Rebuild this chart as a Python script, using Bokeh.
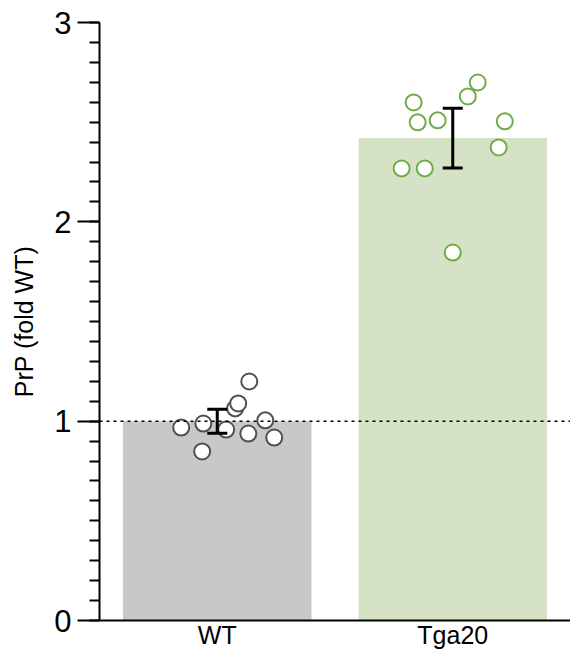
from bokeh.plotting import figure
from bokeh.models import (ColumnDataSource, Span, Whisker, TeeHead, FixedTicker,
                          SingleIntervalTicker, Range1d)
from bokeh.embed import file_html
from bokeh.resources import INLINE

# ---- data ----
groups = ["WT", "Tga20"]
group_pos = [0, 1]
means = [1.0, 2.42]
err_low = [0.94, 2.27]
err_high = [1.06, 2.57]

wt_values = [0.968, 0.848, 0.988, 0.958, 1.064, 1.089, 1.199, 0.938, 1.004, 0.918]
wt_jitter = [-0.153, -0.064, -0.059, 0.038, 0.076, 0.089, 0.136, 0.132, 0.204, 0.242]
tg_values = [2.699, 2.629, 2.599, 2.499, 2.509, 2.504, 2.373, 2.268, 2.268, 1.846]
tg_jitter = [0.106, 0.064, -0.166, -0.149, -0.064, 0.221, 0.195, -0.217, -0.119, 0.0]

bar_colors = ["#c8c8c8", "#d5e2c5"]
FONT = "Liberation Sans"

p = figure(width=570, height=651, output_backend="svg", toolbar_location=None,
           x_range=Range1d(-0.5, 1.5), y_range=Range1d(0, 3),
           min_border_left=99, min_border_right=0, min_border_top=22,
           min_border_bottom=31)
p.outline_line_color = None
p.xgrid.visible = False
p.ygrid.visible = False

bars = ColumnDataSource(dict(x=group_pos, top=means, color=bar_colors,
                             lo=err_low, hi=err_high))
p.vbar(x="x", top="top", width=0.8, bottom=0, color="color", line_color=None, source=bars)

p.add_layout(Span(location=1, dimension="width", line_color="black",
                  line_dash="3 4", line_width=1.5))

wt_src = ColumnDataSource(dict(x=[group_pos[0] + j for j in wt_jitter], y=wt_values))
tg_src = ColumnDataSource(dict(x=[group_pos[1] + j for j in tg_jitter], y=tg_values))
p.scatter("x", "y", source=wt_src, size=16, fill_color="white", line_color="#505050",
          line_width=2)
p.scatter("x", "y", source=tg_src, size=16, fill_color="white", line_color="#70ad47",
          line_width=2)

p.add_layout(Whisker(base="x", upper="hi", lower="lo", source=bars, level="overlay",
                     line_color="black", line_width=3,
                     upper_head=TeeHead(size=20, line_width=3, line_color="black"),
                     lower_head=TeeHead(size=20, line_width=3, line_color="black")))

# y axis
ya = p.yaxis[0]
ya.ticker = SingleIntervalTicker(interval=1, num_minor_ticks=10)
ya.axis_label = "PrP (fold WT)"
ya.axis_label_text_font = FONT
ya.axis_label_text_font_style = "normal"
ya.axis_label_text_font_size = "25px"
ya.axis_label_text_color = "black"
ya.axis_label_standoff = 13
ya.major_label_text_font = FONT
ya.major_label_text_font_size = "31px"
ya.major_label_text_color = "black"
ya.major_label_standoff = 6
ya.major_tick_out = 22
ya.major_tick_in = 0
ya.minor_tick_out = 10
ya.minor_tick_in = 0
ya.axis_line_width = 2
ya.major_tick_line_width = 2
ya.minor_tick_line_width = 2
ya.axis_line_color = "black"
ya.major_tick_line_color = "black"
ya.minor_tick_line_color = "black"

# x axis
xa = p.xaxis[0]
xa.ticker = FixedTicker(ticks=group_pos)
xa.major_label_overrides = {group_pos[i]: groups[i] for i in range(len(groups))}
xa.major_label_text_font = FONT
xa.major_label_text_font_size = "25px"
xa.major_label_text_color = "black"
xa.major_label_standoff = 0
xa.major_tick_line_color = None
xa.minor_tick_line_color = None
xa.major_tick_out = 0
xa.axis_line_width = 2
xa.axis_line_color = "black"

open("out.html", "w").write(file_html(p, INLINE))
